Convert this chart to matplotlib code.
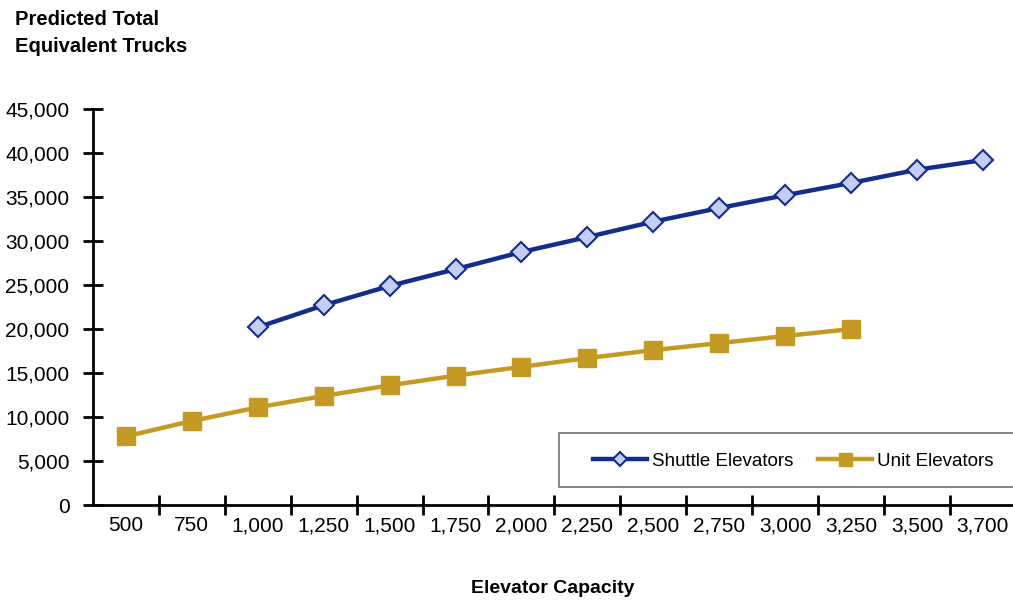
import matplotlib
matplotlib.use("Agg")
import matplotlib.pyplot as plt
from matplotlib import font_manager
from matplotlib.patches import Rectangle
from matplotlib.ticker import FuncFormatter, FixedLocator

capacities = ["500", "750", "1,000", "1,250", "1,500", "1,750", "2,000",
              "2,250", "2,500", "2,750", "3,000", "3,250", "3,500", "3,700"]
shuttle = [None, None, 20200, 22700, 24900, 26800, 28750, 30450, 32200,
           33750, 35200, 36600, 38100, 39200]
unit = [7800, 9550, 11100, 12400, 13600, 14700, 15700, 16700, 17600,
        18400, 19200, 20000, None, None]

names = {f.name for f in font_manager.fontManager.ttflist}
fam = "Liberation Sans Narrow" if "Liberation Sans Narrow" in names else "Liberation Sans"
plt.rcParams["font.family"] = [fam, "DejaVu Sans"]

W, H = 1013, 601
fig = plt.figure(figsize=(W / 100, H / 100), dpi=100)
ax = fig.add_axes([0.0918, 0.1597, 0.911, 0.6589])

x = list(range(len(capacities)))
sx = [i for i, v in zip(x, shuttle) if v is not None]
sy = [v for v in shuttle if v is not None]
ux = [i for i, v in zip(x, unit) if v is not None]
uy = [v for v in unit if v is not None]

navy = "#142C8C"
gold = "#C59A22"
l1, = ax.plot(sx, sy, color=navy, lw=3.2, marker="D", markersize=10.5,
              markerfacecolor="#C3CEF6", markeredgecolor=navy, markeredgewidth=1.5,
              label="Shuttle Elevators", zorder=3)
l2, = ax.plot(ux, uy, color=gold, lw=3.2, marker="s", markersize=13,
              markerfacecolor=gold, markeredgecolor=gold, label="Unit Elevators", zorder=3)

ax.set_xlim(-0.5, 13.5)
ax.set_ylim(0, 45000)
ax.set_yticks(range(0, 45001, 5000))
ax.yaxis.set_major_formatter(FuncFormatter(lambda v, p: f"{int(v):,}"))
ax.set_xticks(x)
ax.set_xticklabels(capacities)
ax.xaxis.set_minor_locator(FixedLocator([i + 0.5 for i in range(13)]))
ax.tick_params(axis="x", which="major", length=0, labelsize=15, pad=8)
ax.tick_params(axis="x", which="minor", length=14, width=2, direction="inout")
ax.tick_params(axis="y", which="major", length=14, width=2, direction="inout",
               labelsize=15, pad=10)
for s in ["top", "right"]:
    ax.spines[s].set_visible(False)
for s in ["left", "bottom"]:
    ax.spines[s].set_linewidth(2)
ax.spines["bottom"].set_bounds(-0.5, 13.5)

fig.text(0.015, 0.983, "Predicted Total\nEquivalent Trucks", ha="left", va="top",
         fontsize=14.5, fontweight="bold", linespacing=1.5)
fig.text(0.546, 0.006, "Elevator Capacity", ha="center", va="bottom",
         fontsize=14, fontweight="bold")

# legend frame (extends past right edge like the reference)
fig.patches.append(Rectangle((559 / W, 1 - 487 / H), 480 / W, 54 / H,
                             transform=fig.transFigure, facecolor="white",
                             edgecolor="#707070", linewidth=1.2, zorder=4))
leg = fig.legend(handles=[l1, l2], loc="center left",
                 bbox_to_anchor=(593 / W, 1 - 461 / H),
                 ncol=2, fontsize=13.5, frameon=False,
                 borderpad=0, handlelength=2.9, columnspacing=1.3,
                 handletextpad=0.25, borderaxespad=0)
leg.set_zorder(6)
for h in leg.legend_handles:
    h.set_markersize(h.get_markersize() * 0.72)

fig.savefig("out.png", dpi=100)
